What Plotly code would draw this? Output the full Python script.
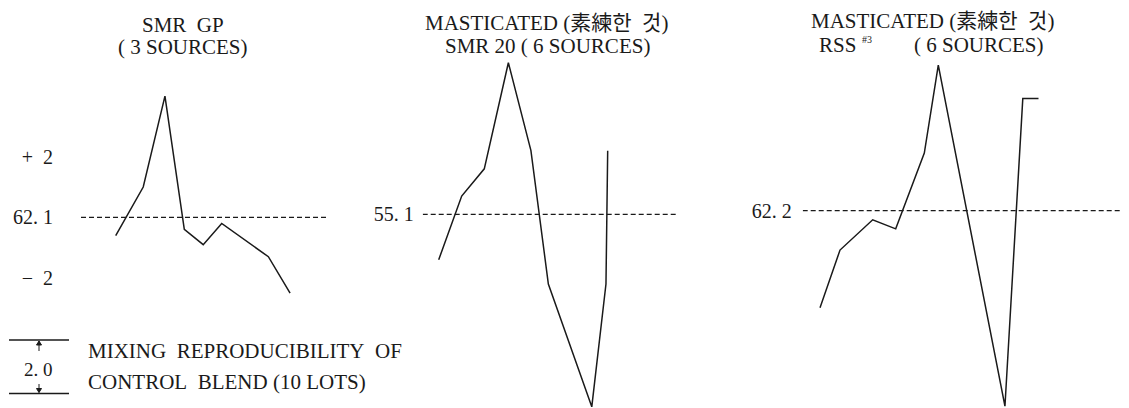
import plotly.graph_objects as go

W, H = 1129, 408

# ---- data ----
# Panel 1: SMR GP
p1_lot = [1, 2.28, 3.29, 4.19, 5.07, 5.93, 8.10, 9.11]
p1_val = [61.5, 63.1, 66.1, 61.7, 61.2, 61.9, 60.8, 59.6]
p1_ref = 62.1
# Panel 2: Masticated SMR 20
p2_lot = [1, 2.07, 3.12, 4.24, 5.29, 6.10, 8.12, 8.78, 8.86]
p2_val = [53.6, 55.7, 56.6, 60.1, 57.2, 52.8, 48.75, 52.8, 57.2]
p2_ref = 55.1
# Panel 3: Masticated RSS #3
p3_lot = [1, 1.93, 3.45, 4.52, 5.85, 6.50, 9.60, 10.43, 11.16]
p3_val = [59.0, 60.9, 61.9, 61.6, 64.1, 67.0, 55.75, 65.9, 65.9]
p3_ref = 62.2

p1_ticks = [60.1, 62.1, 64.1]
p1_ticktext = ["\u2212\u00a0\u00a02", "62. 1", "+\u00a0\u00a02"]

TXT = "Liberation Serif, Noto Sans CJK KR, serif"
NUM = "Liberation Serif, serif"
INK = "#1a1a1a"

panels = [
    dict(lot=p1_lot, val=p1_val, ref=p1_ref, xdom=[81 / W, 326 / W], xr=[-0.614, 10.78],
         yr=[55.81, 69.27], tv=p1_ticks, tt=p1_ticktext, standoff=27),
    dict(lot=p2_lot, val=p2_val, ref=p2_ref, xdom=[422.7 / W, 676.7 / W], xr=[0.256, 12.07],
         yr=[48.71, 62.17], tv=[p2_ref], tt=["55. 1"], standoff=8),
    dict(lot=p3_lot, val=p3_val, ref=p3_ref, xdom=[802.7 / W, 1120 / W], xr=[0.195, 14.95],
         yr=[55.69, 69.15], tv=[p3_ref], tt=["62. 2"], standoff=10),
]

fig = go.Figure()
layout = dict(width=W, height=H, margin=dict(l=0, r=0, t=0, b=0),
              paper_bgcolor="white", plot_bgcolor="white", showlegend=False)

for i, p in enumerate(panels, start=1):
    xa = "x" if i == 1 else f"x{i}"
    ya = "y" if i == 1 else f"y{i}"
    fig.add_trace(go.Scatter(x=[p["xr"][0], p["xr"][1]], y=[p["ref"], p["ref"]], mode="lines",
                             line=dict(color=INK, width=1.2, dash="5px,3px"),
                             xaxis=xa, yaxis=ya, hoverinfo="skip"))
    fig.add_trace(go.Scatter(x=p["lot"], y=p["val"], mode="lines",
                             line=dict(color=INK, width=1.5),
                             xaxis=xa, yaxis=ya))
    layout["xaxis" if i == 1 else f"xaxis{i}"] = dict(
        domain=p["xdom"], range=p["xr"], visible=False, anchor=ya)
    layout["yaxis" if i == 1 else f"yaxis{i}"] = dict(
        domain=[0, 1], range=p["yr"], anchor=xa, showgrid=False, zeroline=False,
        showline=False, ticks="", tickvals=p["tv"], ticktext=p["tt"],
        ticklabelstandoff=p["standoff"],
        tickfont=dict(family=NUM, size=20, color=INK))

fig.update_layout(**layout)

def px(x):
    return x / W

def py(y):
    return 1 - y / H

titles = [
    ("SMR&nbsp;&nbsp;GP", 183, 25, "center", 21),
    ("( 3 SOURCES)", 183, 47, "center", 21),
    ("MASTICATED (素練한&nbsp;&nbsp;것)", 546, 23, "center", 21),
    ("SMR 20 ( 6 SOURCES)", 547, 46, "center", 21),
    ("MASTICATED (素練한&nbsp;&nbsp;것)", 932, 21, "center", 21),
    ("RSS", 817, 45, "left", 21),
    ("#3", 867, 40, "center", 10),
    ("( 6 SOURCES)", 912, 45, "left", 21),
]
for t, x, y, anc, sz in titles:
    fig.add_annotation(text=t, x=px(x), y=py(y), xref="paper", yref="paper",
                       xanchor=anc, yanchor="middle", showarrow=False,
                       font=dict(family=TXT, size=sz, color=INK))

# legend / scale key
for yy in (340, 393.5):
    fig.add_shape(type="line", xref="paper", yref="paper", x0=px(9), x1=px(69),
                  y0=py(yy), y1=py(yy), line=dict(color=INK, width=1.5))
# small arrows of the 2.0 scale key
for y0, y1, tip in ((351, 341, 1), (384, 392.5, -1)):
    fig.add_shape(type="line", xref="paper", yref="paper", x0=px(39), x1=px(39),
                  y0=py(y0), y1=py(y1), line=dict(color=INK, width=1))
    path = (f"M {px(36.5)} {py(y1 + 4 * tip)} L {px(39)} {py(y1)} "
            f"L {px(41.5)} {py(y1 + 4 * tip)} Z")
    fig.add_shape(type="path", xref="paper", yref="paper", path=path,
                  line=dict(color=INK, width=1), fillcolor=INK)
fig.add_annotation(text="2. 0", x=px(38), y=py(369), xref="paper", yref="paper",
                   xanchor="center", yanchor="middle", showarrow=False, bgcolor="white",
                   font=dict(family=NUM, size=19, color=INK))
fig.add_annotation(text="MIXING&nbsp;&nbsp;REPRODUCIBILITY&nbsp;&nbsp;OF", x=px(86), y=py(351),
                   xref="paper", yref="paper", xanchor="left", yanchor="middle", showarrow=False,
                   font=dict(family=TXT, size=21, color=INK))
fig.add_annotation(text="CONTROL&nbsp;&nbsp;BLEND (10 LOTS)", x=px(86), y=py(382),
                   xref="paper", yref="paper", xanchor="left", yanchor="middle", showarrow=False,
                   font=dict(family=TXT, size=21, color=INK))

fig.write_html("out.html", config={"displayModeBar": False},
               post_script="document.body.style.margin='0';")
